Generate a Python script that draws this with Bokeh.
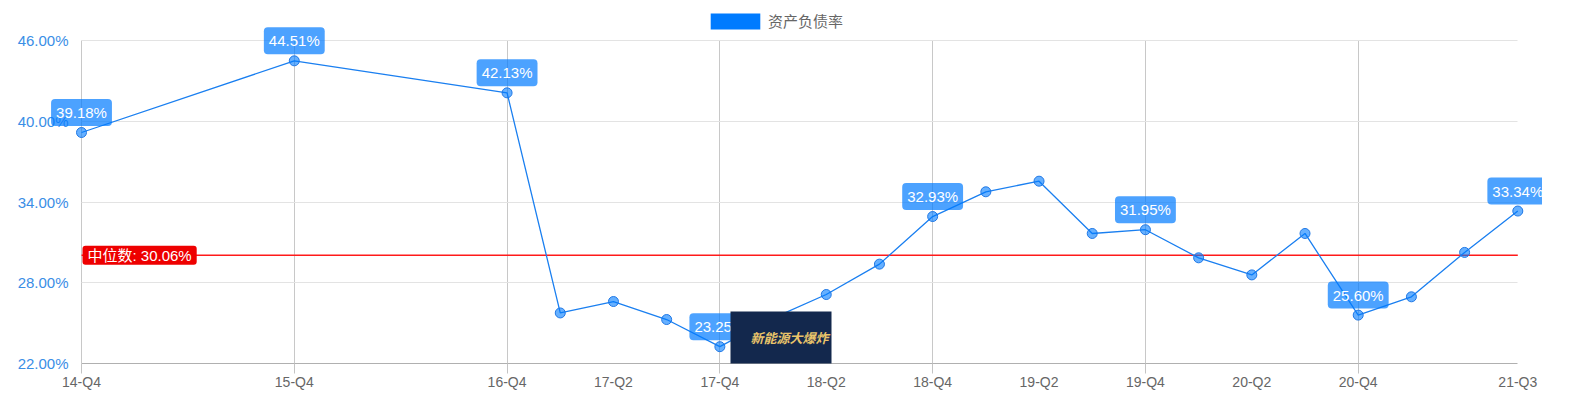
from bokeh.plotting import figure
from bokeh.models import (FixedTicker, Label, Legend, LegendItem,
                          PrintfTickFormatter, Range1d)
from bokeh.embed import file_html
from bokeh.resources import INLINE

# ---------------- data ----------------
quarters = ["14-Q4", "15-Q4", "16-Q4", "17-Q1", "17-Q2", "17-Q3", "17-Q4",
            "18-Q1", "18-Q2", "18-Q3", "18-Q4", "19-Q1", "19-Q2", "19-Q3",
            "19-Q4", "20-Q1", "20-Q2", "20-Q3", "20-Q4", "21-Q1", "21-Q2", "21-Q3"]
debt_ratio = [39.18, 44.51, 42.13, 25.76, 26.61, 25.27, 23.25,
              25.37, 27.13, 29.39, 32.93, 34.77, 35.56, 31.67,
              31.95, 29.86, 28.59, 31.67, 25.60, 26.96, 30.26, 33.34]
tick_labels = ["14-Q4", "15-Q4", "16-Q4", "17-Q2", "17-Q4", "18-Q2", "18-Q4",
               "19-Q2", "19-Q4", "20-Q2", "20-Q4", "21-Q3"]
grid_labels = ["14-Q4", "15-Q4", "16-Q4", "17-Q4", "18-Q4", "19-Q4", "20-Q4"]
y_ticks = [22, 28, 34, 40, 46]
median_value = 30.06
series_name = "资产负债率"
median_name = "中位数"
watermark = "新能源大爆炸"


def qpos(label):
    yy = int(label[:2])
    q = int(label[-1])
    return (yy - 14) * 4 + q - 4


xs = [qpos(q) for q in quarters]
x0, x1 = xs[0], xs[-1]
y0, y1 = y_ticks[0], y_ticks[-1]

# ---------------- layout (pixels) ----------------
W, H = 1542, 402
FL, FB = 45, 363            # frame left / bottom (frame spans to right & top edge)
PLOT_L, PLOT_R, PLOT_T = 81, 1517.3, 40.3   # inner plotting area
px_x = (PLOT_R - PLOT_L) / (x1 - x0)
px_y = (FB - PLOT_T) / (y1 - y0)
xr = Range1d(x0 - (PLOT_L - FL) / px_x, x1 + (W - PLOT_R) / px_x)
yr = Range1d(y0, y0 + FB / px_y)

FONT = "Liberation Sans, Arial, Noto Sans CJK SC"
CJK = "Noto Sans CJK SC"

p = figure(width=W, height=H, output_backend="svg", toolbar_location=None,
           x_range=xr, y_range=yr,
           min_border_left=FL, min_border_right=0, min_border_top=0,
           min_border_bottom=H - FB)
p.outline_line_color = None
p.background_fill_color = "white"
p.border_fill_color = "white"

# x axis
xa = p.xaxis[0]
xa.bounds = (x0, x1)
xa.ticker = FixedTicker(ticks=[qpos(t) for t in tick_labels],
                        minor_ticks=[qpos(t) for t in grid_labels])
xa.major_label_overrides = {qpos(t): t for t in tick_labels}
xa.axis_line_color = "#b0b0b0"
xa.major_tick_line_color = None
xa.major_tick_out = 0
xa.major_tick_in = 0
xa.minor_tick_line_color = "#c4c4c4"
xa.minor_tick_out = 10
xa.minor_tick_in = 0
xa.major_label_text_color = "#666666"
xa.major_label_text_font = FONT
xa.major_label_text_font_size = "14px"
xa.major_label_standoff = 0

# y axis
ya = p.yaxis[0]
ya.ticker = FixedTicker(ticks=y_ticks)
ya.formatter = PrintfTickFormatter(format="%.2f%%")
ya.axis_line_color = None
ya.major_tick_line_color = None
ya.minor_tick_line_color = None
ya.major_label_text_color = "#3a8ee6"
ya.major_label_text_font = FONT
ya.major_label_text_font_size = "15px"
ya.major_label_standoff = -29

# grids
p.xgrid.ticker = FixedTicker(ticks=[qpos(t) for t in grid_labels])
p.xgrid.grid_line_color = "#c8c8c8"
p.ygrid.ticker = FixedTicker(ticks=y_ticks)
p.ygrid.grid_line_color = "#e3e3e3"
try:
    p.xgrid.cross_bounds = (y0, y1)
    p.ygrid.cross_bounds = (x0, x1)
except AttributeError:
    p.xgrid.visible = False
    p.ygrid.visible = False
    gx = [qpos(t) for t in grid_labels]
    p.segment(x0=gx, x1=gx, y0=[y0] * len(gx), y1=[y1] * len(gx),
              line_color="#c8c8c8", line_width=1)
    p.segment(x0=[x0] * len(y_ticks), x1=[x1] * len(y_ticks), y0=y_ticks,
              y1=y_ticks, line_color="#e3e3e3", line_width=1)

# median line
p.line([x0, x1], [median_value, median_value], line_color="#ff1a1a", line_width=1.5)

# series
p.line(xs, debt_ratio, line_color="#1a7ff0", line_width=1.3)
p.scatter(xs, debt_ratio, size=10, fill_color="#007bff", fill_alpha=0.6,
          line_color="#1f78e6", line_width=1)

# legend swatch renderer (no visible data; only provides the filled legend swatch)
nan = float("nan")
r = p.block(x=[nan], y=[nan], width=[nan], height=[nan],
            fill_color="#007bff", line_color=None)
legend = Legend(items=[LegendItem(label=series_name, renderers=[r])],
                location=(704 - FL, FB - 31), orientation="horizontal",
                border_line_color=None, background_fill_alpha=0,
                padding=0, margin=0, spacing=0,
                glyph_width=62, glyph_height=20, label_height=20,
                label_standoff=2, label_text_font=CJK,
                label_text_font_size="15px", label_text_color="#666666")
p.add_layout(legend)

# median label
p.add_layout(Label(x=x0, y=median_value, x_offset=1,
                   text=f"{median_name}: {median_value:.2f}%",
                   text_align="left", text_baseline="middle",
                   text_color="white", text_font=FONT, text_font_size="15px",
                   background_fill_color="#ee0000", padding=(5, 1),
                   border_radius=3))

# value labels at each Q4 and the last point
for i, (q, v) in enumerate(zip(quarters, debt_ratio)):
    if q.endswith("Q4") or i == len(quarters) - 1:
        p.add_layout(Label(x=xs[i], y=v, text=f"{v:.2f}%",
                           text_align="center", text_baseline="middle",
                           y_offset=20, text_color="white", text_font=FONT,
                           text_font_size="15px",
                           background_fill_color="#007bff",
                           background_fill_alpha=0.7,
                           padding=(5, 5), border_radius=4))

# watermark logo
p.add_layout(Label(x=730 - FL, y=23, x_units="screen", y_units="screen",
                   text=watermark, text_align="left", text_baseline="middle",
                   text_color="#e9c46a", text_font=CJK, text_font_size="13px",
                   text_font_style="bold italic",
                   background_fill_color="#13284d",
                   padding=(20, 3, 16, 23)))

open("out.html", "w").write(file_html(p, INLINE))
